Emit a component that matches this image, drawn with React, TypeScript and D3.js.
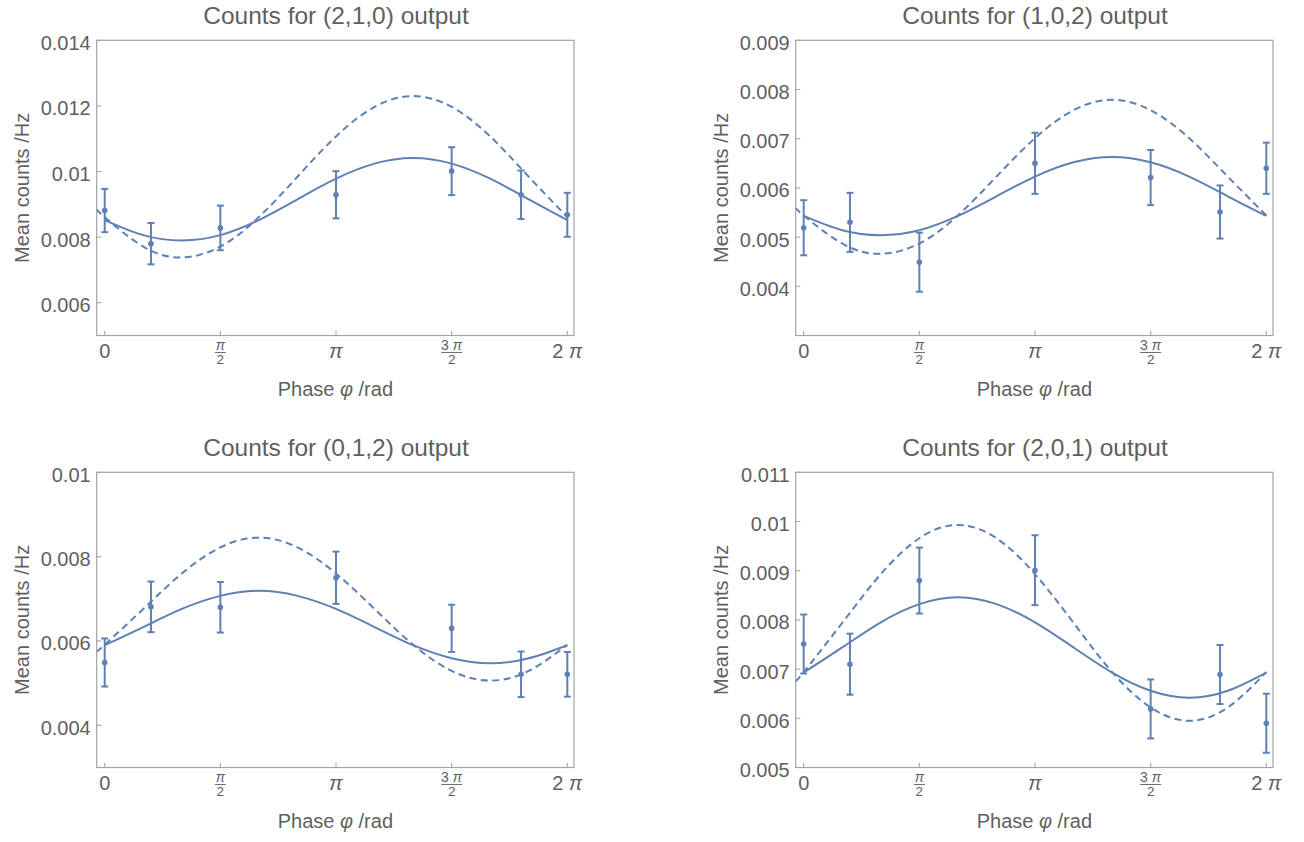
import React from 'react';
import * as d3 from 'd3';

// ---------- data ----------
const TITLES = [
  'Counts for (2,1,0) output',
  'Counts for (1,0,2) output',
  'Counts for (0,1,2) output',
  'Counts for (2,0,1) output',
];

// measured phases (in units of π)
const DATA_PHASES_PI = [0, 0.2, 0.5, 1, 1.5, 1.8, 2];

const P1_COUNTS = [0.00881, 0.0078, 0.00828, 0.00929, 0.01001, 0.00929, 0.00868];
const P1_ERR = [0.00066, 0.00063, 0.00068, 0.00072, 0.00073, 0.00074, 0.00067];
const P2_COUNTS = [0.00519, 0.0053, 0.00449, 0.0065, 0.00621, 0.00551, 0.0064];
const P2_ERR = [0.00056, 0.0006, 0.0006, 0.00062, 0.00056, 0.00054, 0.00052];
const P3_COUNTS = [0.00549, 0.00681, 0.0068, 0.0075, 0.0063, 0.00521, 0.00521];
const P3_ERR = [0.00057, 0.0006, 0.0006, 0.00062, 0.00056, 0.00054, 0.00053];
const P4_COUNTS = [0.00751, 0.0071, 0.0088, 0.00901, 0.00619, 0.00689, 0.0059];
const P4_ERR = [0.0006, 0.00062, 0.00067, 0.00071, 0.0006, 0.0006, 0.0006];

// curve readings (phase in units of π)
const FIT_PHASES_PI = [0, 1 / 6, 2 / 6, 3 / 6, 4 / 6, 5 / 6, 1, 7 / 6, 8 / 6, 9 / 6, 10 / 6, 11 / 6, 2];
const THEORY_PHASES_PI = [-0.0347, 0, 1 / 6, 2 / 6, 3 / 6, 4 / 6, 5 / 6, 1, 7 / 6, 8 / 6, 9 / 6, 10 / 6, 11 / 6, 2];

const P1_FIT = [0.00852, 0.00806, 0.0079, 0.00806, 0.00852, 0.00915, 0.00978, 0.01024, 0.01041, 0.01024, 0.00978, 0.00915, 0.00852];
const P1_THEORY = [0.00885, 0.00861, 0.00771, 0.00738, 0.00771, 0.00861, 0.00984, 0.01107, 0.01197, 0.0123, 0.01197, 0.01107, 0.00984, 0.00861];
const P2_FIT = [0.00543, 0.00514, 0.00504, 0.00514, 0.00543, 0.00583, 0.00623, 0.00652, 0.00663, 0.00652, 0.00623, 0.00583, 0.00543];
const P2_THEORY = [0.0056, 0.00544, 0.00487, 0.00466, 0.00487, 0.00544, 0.00623, 0.00701, 0.00758, 0.00779, 0.00758, 0.00701, 0.00623, 0.00544];
const P3_FIT = [0.0059, 0.00633, 0.00676, 0.00707, 0.00719, 0.00707, 0.00676, 0.00633, 0.0059, 0.00559, 0.00547, 0.00559, 0.0059];
const P3_THEORY = [0.00575, 0.00591, 0.00676, 0.0076, 0.00822, 0.00845, 0.00822, 0.0076, 0.00676, 0.00591, 0.00529, 0.00506, 0.00529, 0.00591];
const P4_FIT = [0.00693, 0.00744, 0.00795, 0.00832, 0.00846, 0.00832, 0.00795, 0.00744, 0.00693, 0.00656, 0.00642, 0.00656, 0.00693];
const P4_THEORY = [0.00676, 0.00694, 0.00794, 0.00893, 0.00966, 0.00993, 0.00966, 0.00893, 0.00794, 0.00694, 0.00622, 0.00595, 0.00622, 0.00694];

const Y_DOMAINS = [
  [0.005, 0.014],
  [0.003, 0.009],
  [0.003, 0.01],
  [0.005, 0.011],
];
const Y_TICKS = [
  [0.006, 0.008, 0.01, 0.012, 0.014],
  [0.004, 0.005, 0.006, 0.007, 0.008, 0.009],
  [0.004, 0.006, 0.008, 0.01],
  [0.005, 0.006, 0.007, 0.008, 0.009, 0.01, 0.011],
];
// x ticks: value in units of π, and label parts
const X_TICKS = [
  { v: 0, kind: 'plain', text: '0' },
  { v: 0.5, kind: 'frac', num: 'π', den: '2' },
  { v: 1, kind: 'pi', text: '' },
  { v: 1.5, kind: 'frac', num: '3 π', den: '2' },
  { v: 2, kind: 'pi', text: '2 ' },
];

const Y_LABEL = 'Mean counts /Hz';

const PANELS = [
  { counts: P1_COUNTS, err: P1_ERR, fit: P1_FIT, theory: P1_THEORY },
  { counts: P2_COUNTS, err: P2_ERR, fit: P2_FIT, theory: P2_THEORY },
  { counts: P3_COUNTS, err: P3_ERR, fit: P3_FIT, theory: P3_THEORY },
  { counts: P4_COUNTS, err: P4_ERR, fit: P4_FIT, theory: P4_THEORY },
];

// ---------- layout ----------
const LEFTS = [96.7, 795.7, 96.7, 795.7];
const TOPS = [40.3, 40.3, 472.3, 472.3];
const FRAME_W = 477.3;
const FRAME_H = 295.2;
const X0_OFF = 8;
const X2PI_OFF = 470.6;

const BLUE = '#5E81B5';
const TEXT = '#5f5f5f';
const FRAME = '#a3a3a3';
const FONT = '"Liberation Sans", Arial, sans-serif';

function Panel({ idx }: { idx: number }) {
  const L = LEFTS[idx];
  const T = TOPS[idx];
  const B = T + FRAME_H;
  const R = L + FRAME_W;
  const p = PANELS[idx];
  const x = d3.scaleLinear().domain([0, 2 * Math.PI]).range([L + X0_OFF, L + X2PI_OFF]);
  const y = d3.scaleLinear().domain(Y_DOMAINS[idx]).range([B, T]);

  const line = d3
    .line<[number, number]>()
    .x((d) => x(d[0]))
    .y((d) => y(d[1]))
    .curve(d3.curveNatural);

  const fitPts: [number, number][] = FIT_PHASES_PI.map((ph, i) => [ph * Math.PI, p.fit[i]]);
  const thPts: [number, number][] = THEORY_PHASES_PI.map((ph, i) => [ph * Math.PI, p.theory[i]]);
  const clipId = `clip${idx}`;
  const cx = (L + R) / 2;
  const cy = (T + B) / 2;

  return (
    <g>
      <defs>
        <clipPath id={clipId}>
          <rect x={L} y={T} width={FRAME_W} height={FRAME_H} />
        </clipPath>
      </defs>
      {/* title */}
      <text x={x(Math.PI)} y={T - 16} textAnchor="middle" fontSize={24.5} fill={TEXT} fontFamily={FONT}>
        {TITLES[idx]}
      </text>
      {/* frame */}
      <rect x={L} y={T} width={FRAME_W} height={FRAME_H} fill="none" stroke={FRAME} strokeWidth={1.2} />
      {/* y ticks */}
      {Y_TICKS[idx].map((v) => (
        <g key={v}>
          <line x1={L} x2={L + 4.5} y1={y(v)} y2={y(v)} stroke={FRAME} strokeWidth={1.1} />
          <text x={L - 6} y={y(v) + 9.5} textAnchor="end" fontSize={20} fill={TEXT} fontFamily={FONT}>
            {String(+v.toFixed(3))}
          </text>
        </g>
      ))}
      {/* x ticks */}
      {X_TICKS.map((t) => {
        const xp = x(t.v * Math.PI);
        let label: React.ReactNode = null;
        if (t.kind === 'plain') {
          label = (
            <text x={xp} y={B + 22.5} textAnchor="middle" fontSize={20} fill={TEXT} fontFamily={FONT}>
              {t.text}
            </text>
          );
        } else if (t.kind === 'pi') {
          label = (
            <text x={xp} y={B + 22.5} textAnchor="middle" fontSize={20} fill={TEXT} fontFamily={FONT}>
              {t.text}
              <tspan fontStyle="italic">π</tspan>
            </text>
          );
        } else {
          const w = t.num.length > 1 ? 21 : 11;
          label = (
            <g>
              <text x={xp} y={B + 14.5} textAnchor="middle" fontSize={14} fill={TEXT} fontFamily={FONT}>
                {t.num.length > 1 ? '3 ' : ''}
                <tspan fontStyle="italic">π</tspan>
              </text>
              <line x1={xp - w / 2} x2={xp + w / 2} y1={B + 17} y2={B + 17} stroke={TEXT} strokeWidth={0.9} />
              <text x={xp} y={B + 28} textAnchor="middle" fontSize={13.5} fill={TEXT} fontFamily={FONT}>
                {t.den}
              </text>
            </g>
          );
        }
        return (
          <g key={t.v}>
            <line x1={xp} x2={xp} y1={B} y2={B - 4.5} stroke={FRAME} strokeWidth={1.1} />
            {label}
          </g>
        );
      })}
      {/* axis labels */}
      <text x={cx} y={B + 60.5} textAnchor="middle" fontSize={20} fill={TEXT} fontFamily={FONT}>
        Phase <tspan fontStyle="italic">φ</tspan> /rad
      </text>
      <text
        transform={`translate(${L - 74.7},${cy}) rotate(-90)`}
        textAnchor="middle"
        dominantBaseline="central"
        fontSize={20}
        fill={TEXT}
        fontFamily={FONT}
      >
        {Y_LABEL}
      </text>
      {/* curves */}
      <g clipPath={`url(#${clipId})`}>
        <path d={line(thPts) || ''} fill="none" stroke={BLUE} strokeWidth={2} strokeDasharray="7,4.5" />
        <path d={line(fitPts) || ''} fill="none" stroke={BLUE} strokeWidth={2} />
      </g>
      {/* data with error bars */}
      {DATA_PHASES_PI.map((ph, i) => {
        const xp = x(ph * Math.PI);
        const yt = y(p.counts[i] + p.err[i]);
        const yb = y(p.counts[i] - p.err[i]);
        return (
          <g key={i}>
            <line x1={xp} x2={xp} y1={yt} y2={yb} stroke={BLUE} strokeWidth={2} />
            <line x1={xp - 3.5} x2={xp + 3.5} y1={yt} y2={yt} stroke={BLUE} strokeWidth={2} />
            <line x1={xp - 3.5} x2={xp + 3.5} y1={yb} y2={yb} stroke={BLUE} strokeWidth={2} />
            <circle cx={xp} cy={y(p.counts[i])} r={2.8} fill={BLUE} />
          </g>
        );
      })}
    </g>
  );
}

export default function App() {
  return (
    <svg
      width={1304}
      height={842}
      style={{ position: 'absolute', left: 0, top: 0, background: '#fff' }}
    >
      <rect x={0} y={0} width={1304} height={842} fill="#fff" />
      {[0, 1, 2, 3].map((i) => (
        <Panel key={i} idx={i} />
      ))}
    </svg>
  );
}
